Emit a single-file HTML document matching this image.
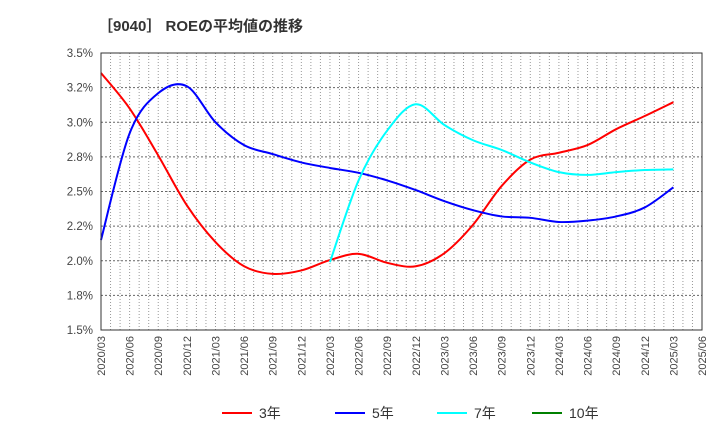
<!DOCTYPE html>
<html><head><meta charset="utf-8"><style>
body{margin:0;background:#fff;font-family:"Liberation Sans","Noto Sans CJK JP",sans-serif;}
</style></head><body>
<svg width="720" height="440" xmlns="http://www.w3.org/2000/svg" font-family="Liberation Sans, Noto Sans CJK JP, sans-serif">
<text x="98" y="31" font-size="15" font-weight="bold" fill="#333">［9040］ ROEの平均値の推移</text>
<g id="grid"></g>
<g id="series"></g>
<g id="axes"></g>
<g id="legend"></g>
</svg>
<script>
const xLabels=["2020/03","2020/06","2020/09","2020/12","2021/03","2021/06","2021/09","2021/12","2022/03","2022/06","2022/09","2022/12","2023/03","2023/06","2023/09","2023/12","2024/03","2024/06","2024/09","2024/12","2025/03","2025/06"];
const yTicks=[1.5,1.75,2.0,2.25,2.5,2.75,3.0,3.25,3.5];
const yTickLabels=["1.5%","1.8%","2.0%","2.2%","2.5%","2.8%","3.0%","3.2%","3.5%"];
const roe3=[3.356,3.10,2.76,2.40,2.135,1.96,1.905,1.93,2.005,2.05,1.985,1.96,2.055,2.26,2.54,2.73,2.78,2.835,2.95,3.045,3.145];
const roe5=[2.15,2.92,3.21,3.26,3.0,2.835,2.77,2.71,2.67,2.635,2.58,2.51,2.43,2.365,2.32,2.31,2.28,2.29,2.32,2.385,2.53];
const roe7=[null,null,null,null,null,null,null,null,1.99,2.58,2.94,3.13,2.98,2.87,2.80,2.71,2.64,2.62,2.64,2.655,2.66];
const roe10=[];
const L=101,R=702,T=53,B=330;
const xs=i=>L+i*(R-L)/(xLabels.length-1);
const ys=v=>B-(v-1.5)/2*(B-T);
const NS="http://www.w3.org/2000/svg";
function mk(tag,attrs,parent){const e=document.createElementNS(NS,tag);for(const k in attrs)e.setAttribute(k,attrs[k]);parent.appendChild(e);return e;}
const grid=document.getElementById('grid'),axes=document.getElementById('axes'),ser=document.getElementById('series'),leg=document.getElementById('legend');
for(let m=1;m<63;m++){const x=L+m*(R-L)/63;const g=mk('line',{x1:x,x2:x,y1:T,y2:B,stroke:'#999','stroke-width':1,'stroke-dasharray':'1,2'},grid);}
yTicks.forEach((v,i)=>{const y=ys(v);if(i>0&&i<yTicks.length-1){const g=mk('line',{x1:L,x2:R,y1:y,y2:y,stroke:'#666','stroke-width':1,'stroke-dasharray':'2,2'},grid);}
const t=mk('text',{x:L-8,y:y+4,'font-size':11.5,'text-anchor':'end',fill:'#444'},axes);t.textContent=yTickLabels[i];});
xLabels.forEach((s,i)=>{const x=xs(i);const t=mk('text',{x:0,y:0,'font-size':11,'text-anchor':'end',fill:'#444',transform:`translate(${x+4},${B+6}) rotate(-90)`},axes);t.textContent=s;});
const fr=mk('rect',{x:L,y:T,width:R-L,height:B-T,fill:'none',stroke:'#333','stroke-width':1},axes);
function path(vals){const p=[];vals.forEach((v,i)=>{if(v!=null)p.push([xs(i),ys(v)]);});if(!p.length)return '';let d=`M${p[0][0]},${p[0][1]}`;for(let i=0;i<p.length-1;i++){const p0=p[i-1]||p[i],p1=p[i],p2=p[i+1],p3=p[i+2]||p2;d+=` C${p1[0]+(p2[0]-p0[0])/6},${p1[1]+(p2[1]-p0[1])/6} ${p2[0]-(p3[0]-p1[0])/6},${p2[1]-(p3[1]-p1[1])/6} ${p2[0]},${p2[1]}`;}return d;}
const series=[[roe3,'#ff0000','3年','line-3yr'],[roe5,'#0000ff','5年','line-5yr'],[roe7,'#00ffff','7年','line-7yr'],[roe10,'#008000','10年','line-10yr']];
series.forEach(([v,c,n,nm],k)=>{const d=path(v);if(d){const e=mk('path',{d:d,fill:'none',stroke:c,'stroke-width':2},ser);}
const lx=[222,335,437,532][k];const l=mk('line',{x1:lx,x2:lx+30,y1:413,y2:413,stroke:c,'stroke-width':2},leg);
const t=mk('text',{x:lx+37,y:418,'font-size':14,fill:'#333'},leg);t.textContent=n;});
</script>
</body></html>
